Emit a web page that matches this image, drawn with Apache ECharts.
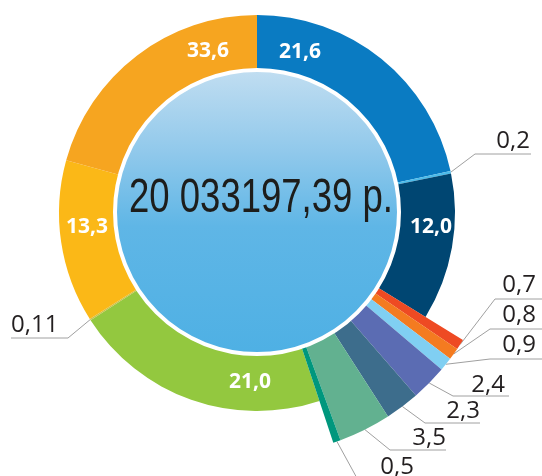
<!DOCTYPE html>
<html>
<head>
<meta charset="utf-8">
<script src="https://cdn.jsdelivr.net/npm/echarts@6/dist/echarts.min.js"></script>
<style>
  html, body { margin: 0; padding: 0; background: #fff; }
  #chart { width: 542px; height: 476px; }
</style>
</head>
<body>
<div id="chart"></div>
<script>
// подписи долей (как на картинке) и их значения, %
const labels = ['21,6', '0,2', '12,0', '0,7', '0,8', '0,9', '2,4', '2,3', '3,5', '0,5', '21,0', '0,11', '13,3', '33,6']
// последняя доля подписана 33,6, но по дуге на рисунке это около 20,7
const values = [21.6, 0.2, 12.0, 0.7, 0.8, 0.9, 2.4, 2.3, 3.5, 0.5, 21.0, 0.11, 13.3, 20.7]
const colors = ['#0a7bc2', '#4cbbea', '#004672', '#ee4a23', '#f47b20', '#80cff2', '#5b6cb3',
  '#3d6d8c', '#62b190', '#00977d', '#93c83f', '#c9c24a', '#fbb817', '#f6a520']
const totalText = '20 033197,39 р.'

// доли, вынесенные наружу (большой радиус)
const outerIdx = [3, 4, 5, 6, 7, 8, 9]

const CX = 257
const CY = 213

// положение подписей
const innerPos = {
  0: [300, 52], 2: [431, 227], 10: [250, 382], 12: [87, 227], 13: [208, 51]
}
// [край текста, низ текста, y линии, x излома, конец линии, выравнивание]
const outerPos = {
  1: [530, 153, 154, 475, 531, 'right'],
  3: [536, 297, 299, 495, 542, 'right'],
  4: [536, 327, 329, 490, 542, 'right'],
  5: [536, 357, 359, 490, 542, 'right'],
  6: [505, 397, 396, 453, 509, 'right'],
  7: [480, 423, 423, 425, 480, 'right'],
  8: [446, 450, 450, 390, 446, 'right'],
  9: [414, 479, 480, 358, 420, 'right'],
  11: [11, 337, 338, 68, 11, 'left']
}

const chart = echarts.init(document.getElementById('chart'))

function buildData(visible) {
  return values.map((v, i) => {
    const show = visible.indexOf(i) >= 0
    const item = {
      value: v,
      name: labels[i],
      itemStyle: { color: show ? colors[i] : 'rgba(0,0,0,0)' },
      label: { show: show },
      labelLine: { show: show && outerPos[i] !== undefined }
    }
    if (innerPos[i]) {
      item.label.position = 'inside'
      item.label.color = '#fff'
      item.label.fontWeight = 'bold'
      item.label.fontSize = 21
      item.label.lineHeight = 22
    }
    return item
  })
}

const mainIdx = values.map((v, i) => i).filter(i => outerIdx.indexOf(i) < 0)

function layoutLabel(params) {
  const i = params.dataIndex
  if (innerPos[i]) {
    return { x: innerPos[i][0], y: innerPos[i][1], align: 'center', verticalAlign: 'middle' }
  }
  const p = outerPos[i]
  if (!p) return {}
  const start = params.labelLinePoints ? params.labelLinePoints[0] : [CX, CY]
  return {
    x: p[0],
    y: p[1],
    align: p[5],
    verticalAlign: 'bottom',
    labelLinePoints: [start, [p[3], p[2]], [p[4], p[2]]]
  }
}

const baseSeries = {
  type: 'pie',
  center: [CX, CY],
  startAngle: 90,
  clockwise: true,
  avoidLabelOverlap: false,
  silent: true,
  emphasis: { disabled: true },
  label: {
    position: 'outside',
    formatter: '{b}',
    color: '#231f20',
    fontFamily: 'Open Sans',
    fontSize: 24,
    lineHeight: 24
  },
  labelLine: {
    show: true,
    length: 10,
    length2: 10,
    lineStyle: { color: '#a0a0a0', width: 1 }
  },
  labelLayout: layoutLabel
}

const option = {
  backgroundColor: '#fff',
  animation: false,
  series: [
    Object.assign({}, baseSeries, {
      radius: [118, 198],
      data: buildData(mainIdx)
    }),
    Object.assign({}, baseSeries, {
      radius: [118, 242],
      data: buildData(outerIdx)
    })
  ],
  graphic: [
    {
      type: 'circle',
      z: 100,
      shape: { cx: CX, cy: 212, r: 142 },
      style: {
        fill: new echarts.graphic.LinearGradient(0, 0, 0, 1, [
          { offset: 0, color: '#c2def1' },
          { offset: 0.3, color: '#8fc8eb' },
          { offset: 0.55, color: '#5fb6e6' },
          { offset: 1, color: '#4eb0e4' }
        ]),
        stroke: '#fff',
        lineWidth: 4
      }
    },
    {
      type: 'text',
      z: 101,
      x: 261,
      y: 198,
      scaleX: 0.745,
      style: {
        text: totalText,
        font: '49px "Liberation Sans", sans-serif',
        fill: '#1d1d1b',
        textAlign: 'center',
        textVerticalAlign: 'middle'
      }
    }
  ]
}
chart.setOption(option)
</script>
</body>
</html>
